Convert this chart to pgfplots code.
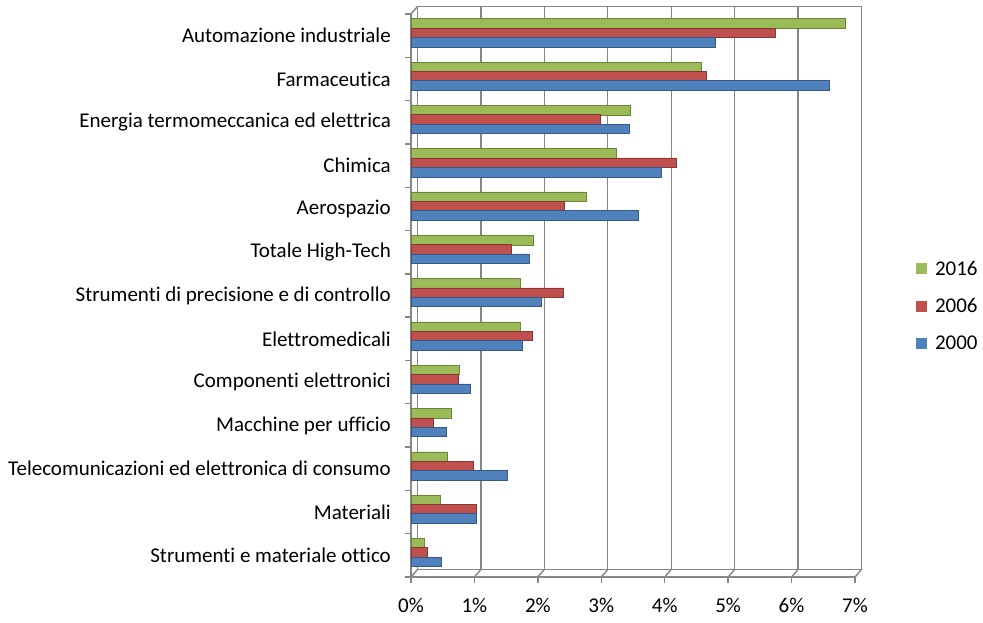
\documentclass[border=0pt]{standalone}
\usepackage{fontspec}
\setmainfont{Carlito}[Ligatures={NoCommon}]
\usepackage{pgfplots}
\pgfplotsset{compat=1.18}
\definecolor{cg}{RGB}{155,187,89}
\definecolor{cr}{RGB}{192,80,77}
\definecolor{cb}{RGB}{79,129,189}
\definecolor{gridc}{RGB}{134,134,134}
\begin{document}
\begin{tikzpicture}
\useasboundingbox (0,0) rectangle (983pt,623pt);
\begin{axis}[
  at={(411pt,46pt)}, anchor=south west,
  scale only axis, width=444pt, height=563pt,
  xbar, y dir=reverse,
  xmin=0, xmax=7, ymin=-0.5, ymax=12.5,
  axis line style={draw=none}, clip=false,
  bar width=0.22,
  ytick={0,...,12},
  yticklabels={Automazione industriale,Farmaceutica,Energia termomeccanica ed elettrica,Chimica,Aerospazio,Totale High-Tech,Strumenti di precisione e di controllo,Elettromedicali,Componenti elettronici,Macchine per ufficio,Telecomunicazioni ed elettronica di consumo,Materiali,Strumenti e materiale ottico},
  xtick={0,...,7},
  xticklabels={0\%,1\%,2\%,3\%,4\%,5\%,6\%,7\%},
  major tick length=0pt,
  tick label style={font=\fontsize{21}{25}\selectfont},
  yticklabel style={inner sep=0pt, anchor=east, xshift=-20pt},
  xticklabel style={inner sep=0pt, anchor=north, yshift=-21pt},
  legend style={at={(1.137,0.481)}, anchor=west, draw=none, fill=none,
    font=\fontsize{21}{25}\selectfont, row sep=18pt, inner sep=0pt,
    cells={anchor=west}},
  legend image code/.code={\fill[#1,draw=none] (0pt,-5.5pt) rectangle (11pt,5.5pt);},
]
% back wall and floor
\pgfplotsinvokeforeach{0,...,7}{
  \draw[gridc, line width=1.4pt] ([shift={(6.5pt,7.5pt)}]axis cs:#1,12.5) -- ([shift={(6.5pt,7.5pt)}]axis cs:#1,-0.5);
  \draw[gridc, line width=1.4pt] (axis cs:#1,12.5) -- ([shift={(6.5pt,7.5pt)}]axis cs:#1,12.5);
  \draw[gridc, line width=1.4pt] (axis cs:#1,12.5) -- ([shift={(0pt,-6pt)}]axis cs:#1,12.5);
}
\draw[gridc, line width=1.4pt] ([shift={(6.5pt,7.5pt)}]axis cs:0,-0.5) -- ([shift={(6.5pt,7.5pt)}]axis cs:7,-0.5);
\draw[gridc, line width=1.4pt] ([shift={(6.5pt,7.5pt)}]axis cs:0,12.5) -- ([shift={(6.5pt,7.5pt)}]axis cs:7,12.5);
\draw[gridc, line width=1.4pt] (axis cs:0,12.5) -- (axis cs:7,12.5);
\draw[gridc, line width=1.4pt] (axis cs:0,-0.5) -- (axis cs:0,12.5);
\draw[gridc, line width=1.4pt] (axis cs:0,-0.5) -- ([shift={(6.5pt,7.5pt)}]axis cs:0,-0.5);
\pgfplotsinvokeforeach{-0.5,0.5,...,12.5}{
  \draw[gridc, line width=1.4pt] (axis cs:0,#1) -- ([shift={(-6pt,0pt)}]axis cs:0,#1);
}
% 2016
\addplot[fill=cg, draw=cg!70!black, line width=0.6pt, bar shift=-0.28] coordinates {
(6.85,0) (4.58,1) (3.45,2) (3.24,3) (2.77,4) (1.93,5) (1.73,6) (1.72,7) (0.76,8) (0.64,9) (0.58,10) (0.46,11) (0.21,12)};
% 2006
\addplot[fill=cr, draw=cr!70!black, line width=0.6pt, bar shift=-0.065] coordinates {
(5.75,0) (4.65,1) (2.98,2) (4.19,3) (2.42,4) (1.58,5) (2.40,6) (1.91,7) (0.75,8) (0.35,9) (0.99,10) (1.03,11) (0.26,12)};
% 2000
\addplot[fill=cb, draw=cb!70!black, line width=0.6pt, bar shift=0.15] coordinates {
(4.80,0) (6.59,1) (3.44,2) (3.95,3) (3.58,4) (1.86,5) (2.06,6) (1.76,7) (0.93,8) (0.55,9) (1.52,10) (1.03,11) (0.47,12)};
\legend{\hspace{6pt}2016,\hspace{6pt}2006,\hspace{6pt}2000}
\end{axis}
\end{tikzpicture}
\end{document}
